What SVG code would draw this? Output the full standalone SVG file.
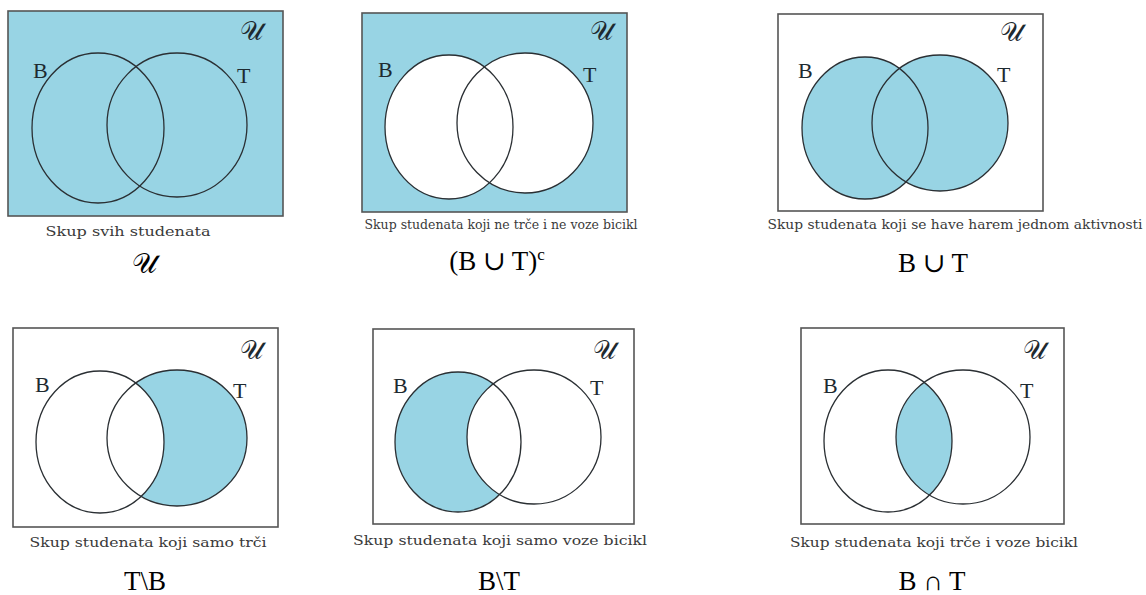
<svg xmlns="http://www.w3.org/2000/svg" width="1146" height="595" viewBox="0 0 1146 595">
<style>
.frame{stroke:#555;stroke-width:1.6}
.blue{fill:#98D4E4}
.white{fill:#fff}
.c{fill:none;stroke:#2a2f33;stroke-width:1.3}
.lbl{font-family:"Liberation Serif","DejaVu Serif",serif;font-size:22px;fill:#1e2a30}
.u{font-family:"DejaVu Serif","Noto Sans","DejaVu Sans",serif;font-size:26px;fill:#1e2a30}
.cap{font-family:"DejaVu Serif","Liberation Serif",serif;font-size:12.5px;fill:#3a3a3a}
.math{font-family:"Liberation Serif","DejaVu Serif",serif;font-size:27px;fill:#000}
.mu{font-family:"DejaVu Serif","Noto Sans",serif;font-size:28px;fill:#000}
</style>
<rect width="1146" height="595" fill="#fff"/>
<defs>
<clipPath id="clipB6"><ellipse cx="888" cy="441" rx="64" ry="71"/></clipPath>
</defs>

<g id="panel-universe">
<rect x="8" y="11" width="275" height="205" class="blue frame"/>
<ellipse cx="98" cy="128" rx="66" ry="75" class="c"/>
<ellipse cx="177" cy="125" rx="70" ry="72" class="c"/>
<text x="33" y="78" class="lbl">B</text>
<text x="237" y="83" class="lbl">T</text>
<text x="240" y="40" class="u">𝒰</text>
<text x="128" y="236" class="cap" text-anchor="middle" textLength="165" lengthAdjust="spacingAndGlyphs">Skup svih studenata</text>
<text x="144" y="273" class="mu" text-anchor="middle">𝒰</text>
</g>

<g id="panel-complement">
<rect x="362" y="13" width="265" height="199" class="blue frame"/>
<ellipse cx="449" cy="127" rx="64" ry="72" class="white"/>
<ellipse cx="525" cy="123" rx="68" ry="70" class="white"/>
<ellipse cx="449" cy="127" rx="64" ry="72" class="c"/>
<ellipse cx="525" cy="123" rx="68" ry="70" class="c"/>
<text x="378" y="77" class="lbl">B</text>
<text x="583" y="82" class="lbl">T</text>
<text x="590" y="40" class="u">𝒰</text>
<text x="501" y="229" class="cap" text-anchor="middle" textLength="273" lengthAdjust="spacingAndGlyphs">Skup studenata koji ne trče i ne voze bicikl</text>
<text x="497" y="270" class="math" text-anchor="middle">(B ∪ T)<tspan dy="-10" font-size="17">c</tspan></text>
</g>

<g id="panel-union">
<rect x="778" y="14" width="265" height="197" fill="#fff" class="frame"/>
<ellipse cx="865" cy="128" rx="63" ry="71" class="blue"/>
<ellipse cx="940" cy="123" rx="68" ry="68" class="blue"/>
<ellipse cx="865" cy="128" rx="63" ry="71" class="c"/>
<ellipse cx="940" cy="123" rx="68" ry="68" class="c"/>
<text x="798" y="78" class="lbl">B</text>
<text x="997" y="82" class="lbl">T</text>
<text x="1000" y="41" class="u">𝒰</text>
<text x="955" y="229" class="cap" text-anchor="middle" textLength="375" lengthAdjust="spacingAndGlyphs">Skup studenata koji se have harem jednom aktivnosti</text>
<text x="933" y="272" class="math" text-anchor="middle">B ∪ T</text>
</g>

<g id="panel-t-minus-b">
<rect x="13" y="328" width="265" height="199" fill="#fff" class="frame"/>
<ellipse cx="177" cy="438" rx="70" ry="68" class="blue"/>
<ellipse cx="100" cy="442" rx="64" ry="71" class="white"/>
<ellipse cx="100" cy="442" rx="64" ry="71" class="c"/>
<ellipse cx="177" cy="438" rx="70" ry="68" class="c"/>
<text x="35" y="392" class="lbl">B</text>
<text x="233" y="398" class="lbl">T</text>
<text x="240" y="359" class="u">𝒰</text>
<text x="148" y="547" class="cap" text-anchor="middle" textLength="237" lengthAdjust="spacingAndGlyphs">Skup studenata koji samo trči</text>
<text x="145" y="590" class="math" text-anchor="middle">T\B</text>
</g>

<g id="panel-b-minus-t">
<rect x="373" y="329" width="261" height="195" fill="#fff" class="frame"/>
<ellipse cx="458" cy="442" rx="63" ry="70" class="blue"/>
<ellipse cx="534" cy="437" rx="67" ry="67" class="white"/>
<ellipse cx="458" cy="442" rx="63" ry="70" class="c"/>
<ellipse cx="534" cy="437" rx="67" ry="67" class="c"/>
<text x="393" y="393" class="lbl">B</text>
<text x="590" y="395" class="lbl">T</text>
<text x="593" y="359" class="u">𝒰</text>
<text x="500" y="545" class="cap" text-anchor="middle" textLength="294" lengthAdjust="spacingAndGlyphs">Skup studenata koji samo voze bicikl</text>
<text x="499" y="590" class="math" text-anchor="middle">B\T</text>
</g>

<g id="panel-intersection">
<rect x="801" y="328" width="263" height="196" fill="#fff" class="frame"/>
<ellipse cx="963" cy="437" rx="67" ry="67" class="blue" clip-path="url(#clipB6)"/>
<ellipse cx="888" cy="441" rx="64" ry="71" class="c"/>
<ellipse cx="963" cy="437" rx="67" ry="67" class="c"/>
<text x="823" y="393" class="lbl">B</text>
<text x="1020" y="398" class="lbl">T</text>
<text x="1023" y="359" class="u">𝒰</text>
<text x="934" y="547" class="cap" text-anchor="middle" textLength="288" lengthAdjust="spacingAndGlyphs">Skup studenata koji trče i voze bicikl</text>
<text x="932" y="590" class="math" text-anchor="middle">B ∩ T</text>
</g>

<g id="connectors"/>
</svg>
